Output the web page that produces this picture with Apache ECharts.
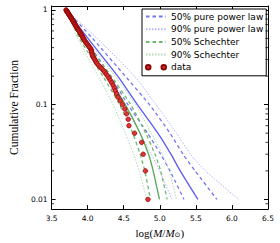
<!DOCTYPE html>
<html><head><meta charset="utf-8">
<script src="https://cdn.jsdelivr.net/npm/echarts@6/dist/echarts.min.js"></script>
<style>html,body{margin:0;padding:0;background:#fff}#c{width:280px;height:243px}</style>
</head><body><div id="c"></div>
<script>
// cumulative-fraction levels at which model curves are sampled
const fracLevels = [1, 0.5, 0.2, 0.1, 0.05, 0.03, 0.02, 0.01];
// log(M/Msun) of each model curve at those levels
const plMedian  = [3.703, 4.004, 4.417, 4.689, 4.973, 5.154, 5.283, 5.528];
const pl50lo    = [3.703, 3.965, 4.314, 4.559, 4.831, 5.012, 5.141, 5.335];
const pl50hi    = [3.703, 4.068, 4.521, 4.857, 5.141, 5.322, 5.490, 5.791];
const pl90lo    = [3.703, 3.939, 4.262, 4.495, 4.727, 4.882, 4.999, 5.167];
const pl90hi    = [3.703, 4.133, 4.650, 4.947, 5.231, 5.425, 5.632, 6.093];
const schMedian = [3.703, 3.913, 4.275, 4.521, 4.727, 4.844, 4.908, 4.995];
const sch50lo   = [3.703, 3.888, 4.211, 4.443, 4.624, 4.727, 4.792, 4.870];
const sch50hi   = [3.703, 3.939, 4.327, 4.598, 4.805, 4.934, 5.012, 5.102];
const sch90lo   = [3.703, 3.862, 4.146, 4.353, 4.521, 4.637, 4.714, 4.818];
const sch90hi   = [3.703, 3.978, 4.379, 4.663, 4.882, 5.038, 5.128, 5.231];
// observed data
const dataX = [3.700,3.704,3.707,3.711,3.715,3.719,3.723,3.727,3.731,3.735,
3.739,3.743,3.747,3.751,3.755,3.760,3.764,3.768,3.773,3.777,
3.782,3.787,3.791,3.795,3.799,3.804,3.808,3.813,3.817,3.822,
3.826,3.831,3.836,3.841,3.846,3.851,3.856,3.862,3.868,3.874,
3.880,3.887,3.893,3.899,3.905,3.911,3.917,3.923,3.929,3.935,
3.941,3.948,3.954,3.961,3.970,3.980,3.989,3.999,4.009,4.020,
4.030,4.041,4.049,4.052,4.056,4.059,4.063,4.067,4.076,4.087,
4.097,4.109,4.120,4.132,4.152,4.173,4.196,4.219,4.238,4.257,
4.278,4.297,4.315,4.334,4.353,4.368,4.383,4.400,4.420,4.452,
4.482,4.515,4.539,4.563,4.572,4.650,4.749,4.770,4.801,4.835];
const dataFrac = [1.00,0.99,0.98,0.97,0.96,0.95,0.94,0.93,0.92,0.91,
0.90,0.89,0.88,0.87,0.86,0.85,0.84,0.83,0.82,0.81,
0.80,0.79,0.78,0.77,0.76,0.75,0.74,0.73,0.72,0.71,
0.70,0.69,0.68,0.67,0.66,0.65,0.64,0.63,0.62,0.61,
0.60,0.59,0.58,0.57,0.56,0.55,0.54,0.53,0.52,0.51,
0.50,0.49,0.48,0.47,0.46,0.45,0.44,0.43,0.42,0.41,
0.40,0.39,0.38,0.37,0.36,0.35,0.34,0.33,0.32,0.31,
0.30,0.29,0.28,0.27,0.26,0.25,0.24,0.23,0.22,0.21,
0.20,0.19,0.18,0.17,0.16,0.15,0.14,0.13,0.12,0.11,
0.10,0.09,0.08,0.07,0.06,0.05,0.04,0.03,0.02,0.01];
// axis ticks
const xTicks = [3.5, 4.0, 4.5, 5.0, 5.5, 6.0, 6.5];
const yMinorTicks = [0.009,0.02,0.03,0.04,0.05,0.06,0.07,0.08,0.09,0.2,0.3,0.4,0.5,0.6,0.7,0.8,0.9];

const chart = echarts.init(document.getElementById('c'), null, {renderer: 'svg'});
const pairs = xs => xs.map((x, i) => [x, fracLevels[i]]);
function lineSeries(name, xs, color, type, width) {
  return {name: name, type: 'line', data: pairs(xs), symbol: 'none', smooth: 0.2,
    lineStyle: {color: color, type: type, width: width}, itemStyle: {color: color},
    xAxisIndex: 0, yAxisIndex: 0, z: 2, silent: true};
}
const cBlueS = '#5a5af5', cBlueD = '#7474f5', cBlueO = '#b4b4ff';
const cGrnS = '#52a852', cGrnD = '#6ab86a', cGrnO = '#b2dcb2';
const axisFont = {fontFamily: 'DejaVu Sans', fontSize: 7.5, color: '#000'};
const serif = 'Liberation Serif';
const twoDots = 'path://M0,2.25a2.25,2.25 0 1,0 4.5,0a2.25,2.25 0 1,0 -4.5,0Z M15.5,2.25a2.25,2.25 0 1,0 4.5,0a2.25,2.25 0 1,0 -4.5,0Z';
const noSym = {opacity: 0};

chart.setOption({
  animation: false,
  grid: {left: 36, right: 12, top: 6, bottom: 30},
  legend: {
    left: 142, top: 9, orient: 'vertical', backgroundColor: '#fff',
    borderColor: '#000', borderWidth: 1, borderRadius: 0,
    padding: [3, 3, 4, 3], itemWidth: 20, itemHeight: 10, itemGap: 3.7,
    textStyle: {fontFamily: 'DejaVu Sans', fontSize: 9, color: '#000'},
    data: [
      {name: '50% pure power law', itemStyle: noSym},
      {name: '90% pure power law', itemStyle: noSym},
      {name: '50% Schechter', itemStyle: noSym},
      {name: '90% Schechter', itemStyle: noSym},
      {name: 'data', icon: twoDots}
    ]
  },
  xAxis: [{
    type: 'value', min: 3.5, max: 6.5, interval: 0.5, position: 'bottom',
    name: '{n|log(}{i|M}{n|/}{i|M}{s|⊙}{n|)}', nameLocation: 'middle', nameGap: 15,
    nameTextStyle: {rich: {
      n: {fontFamily: serif, fontSize: 11, color: '#000'},
      i: {fontFamily: serif, fontSize: 11, fontStyle: 'italic', color: '#000'},
      s: {fontFamily: 'DejaVu Sans', fontSize: 7, color: '#000', verticalAlign: 'bottom', padding: [4, 0, 0, 0]}
    }},
    axisLine: {lineStyle: {color: '#000', width: 1}},
    axisTick: {inside: true, length: 4, lineStyle: {color: '#000'}},
    axisLabel: {...axisFont, margin: 5, formatter: v => v.toFixed(1)},
    splitLine: {show: false}
  }, {
    type: 'value', min: 3.5, max: 6.5, interval: 0.5, position: 'top',
    axisLine: {lineStyle: {color: '#000', width: 1}},
    axisTick: {inside: true, length: 4, lineStyle: {color: '#000'}},
    axisLabel: {show: false}, splitLine: {show: false}
  }],
  yAxis: [{
    type: 'log', logBase: 10, min: 0.0079, max: 1.1, position: 'left',
    name: 'Cumulative Fraction', nameLocation: 'middle', nameGap: 20,
    nameTextStyle: {fontFamily: serif, fontSize: 11.5, color: '#000'},
    axisLine: {lineStyle: {color: '#000', width: 1}},
    axisTick: {inside: true, length: 4, lineStyle: {color: '#000'}},
    axisLabel: {...axisFont, margin: 4, showMinLabel: false, showMaxLabel: false,
      formatter: v => String(Math.round(Math.log10(v)) === Math.log10(v) ? v : '')},
    splitLine: {show: false}
  }, {
    type: 'log', logBase: 10, min: 0.0079, max: 1.1, position: 'right',
    axisLine: {lineStyle: {color: '#000', width: 1}},
    axisTick: {inside: true, length: 4, lineStyle: {color: '#000'}},
    axisLabel: {show: false}, splitLine: {show: false}
  }],
  series: [
    lineSeries('90% pure power law', pl90lo, cBlueO, [1.5, 1.5], 1),
    lineSeries('90% pure power law', pl90hi, cBlueO, [1.5, 1.5], 1),
    lineSeries('50% pure power law', pl50lo, cBlueD, [3.5, 3], 1.3),
    lineSeries('50% pure power law', pl50hi, cBlueD, [3.5, 3], 1.3),
    lineSeries('pure power law median', plMedian, cBlueS, 'solid', 1.3),
    lineSeries('90% Schechter', sch90lo, cGrnO, [1.5, 1.5], 1),
    lineSeries('90% Schechter', sch90hi, cGrnO, [1.5, 1.5], 1),
    lineSeries('50% Schechter', sch50lo, cGrnD, [3.5, 3], 1.3),
    lineSeries('50% Schechter', sch50hi, cGrnD, [3.5, 3], 1.3),
    lineSeries('Schechter median', schMedian, cGrnS, 'solid', 1.3),
    {
      name: 'data', type: 'scatter', z: 5, symbol: 'circle', symbolSize: 4.5,
      data: dataX.map((x, i) => [x, dataFrac[i]]),
      itemStyle: {color: '#e03434', borderColor: '#8a0000', borderWidth: 0.7, opacity: 1},
      silent: true
    },
    {
      name: 'minor ticks', type: 'custom', z: 6, silent: true,
      data: yMinorTicks.map(v => [xTicks[0], v]),
      renderItem: (params, api) => {
        const p0 = api.coord([xTicks[0], api.value(1)]);
        const p1 = api.coord([xTicks[xTicks.length - 1], api.value(1)]);
        const st = {stroke: '#000', lineWidth: 0.8};
        return {type: 'group', children: [
          {type: 'line', shape: {x1: p0[0], y1: p0[1], x2: p0[0] + 2.5, y2: p0[1]}, style: st},
          {type: 'line', shape: {x1: p1[0], y1: p1[1], x2: p1[0] - 2.5, y2: p1[1]}, style: st}
        ]};
      }
    }
  ]
});
</script></body></html>
